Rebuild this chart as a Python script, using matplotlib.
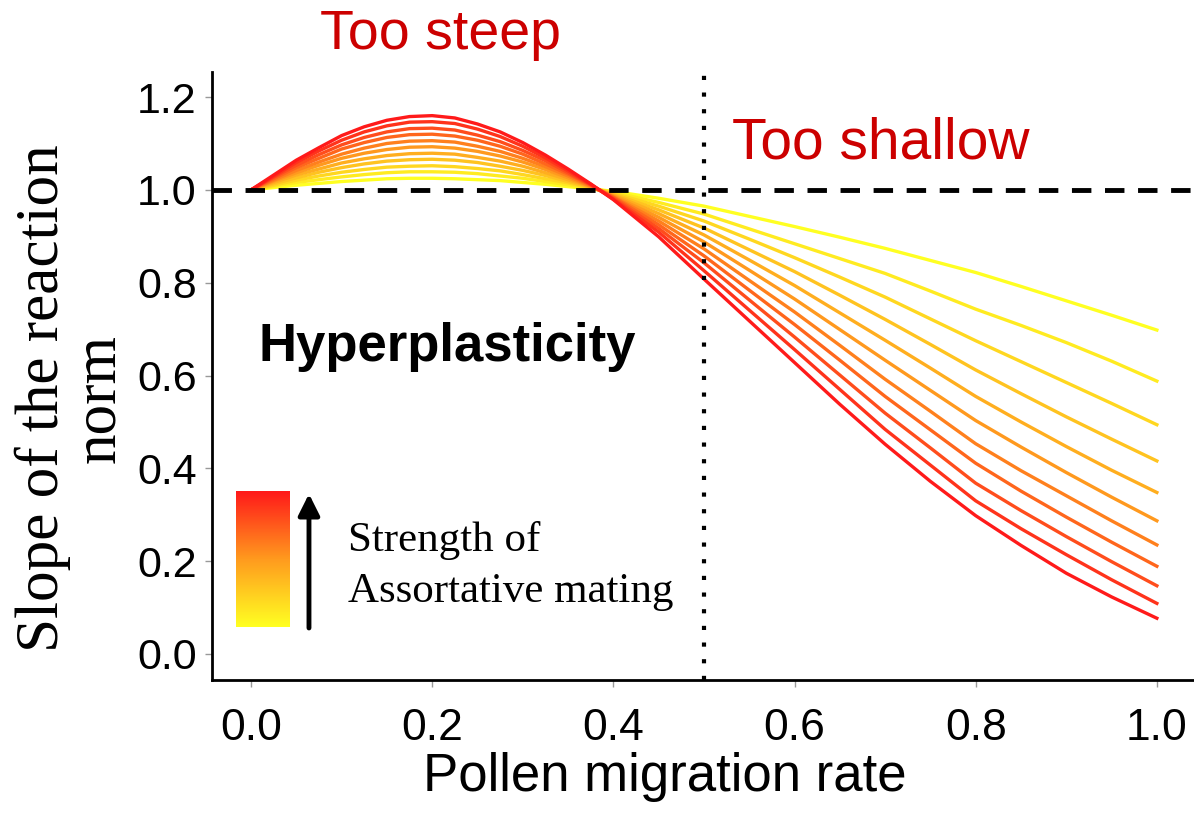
import numpy as np
import matplotlib.pyplot as plt
from matplotlib.colors import LinearSegmentedColormap
from matplotlib.patches import Rectangle

# pollen migration rate (x) and slope of the reaction norm for 11 strengths
# of assortative mating, weakest (yellow) first, strongest (red) last
migration = [0.0, 0.025, 0.05, 0.075, 0.1, 0.125, 0.15, 0.175, 0.2, 0.225,
             0.25, 0.275, 0.3, 0.325, 0.35, 0.375, 0.4, 0.45, 0.5, 0.55,
             0.6, 0.65, 0.7, 0.75, 0.8, 0.85, 0.9, 0.95, 1.0]
slopes = [
    [1.000, 1.005, 1.010, 1.014, 1.018, 1.021, 1.024, 1.025, 1.025, 1.024, 1.022, 1.020, 1.016, 1.012, 1.007, 1.002,
     0.997, 0.982, 0.965, 0.943, 0.921, 0.898, 0.874, 0.848, 0.822, 0.792, 0.761, 0.730, 0.698],
    [1.000, 1.008, 1.016, 1.022, 1.028, 1.033, 1.037, 1.039, 1.039, 1.038, 1.035, 1.030, 1.025, 1.018, 1.011, 1.003,
     0.995, 0.973, 0.948, 0.916, 0.884, 0.852, 0.820, 0.782, 0.743, 0.708, 0.671, 0.631, 0.588],
    [1.000, 1.010, 1.021, 1.030, 1.038, 1.044, 1.049, 1.051, 1.052, 1.050, 1.046, 1.041, 1.033, 1.024, 1.015, 1.004,
     0.993, 0.965, 0.933, 0.894, 0.854, 0.812, 0.769, 0.722, 0.675, 0.630, 0.585, 0.540, 0.494],
    [1.000, 1.013, 1.026, 1.038, 1.048, 1.056, 1.062, 1.065, 1.066, 1.064, 1.059, 1.051, 1.042, 1.031, 1.018, 1.005,
     0.991, 0.957, 0.918, 0.871, 0.824, 0.773, 0.721, 0.667, 0.612, 0.561, 0.511, 0.463, 0.416],
    [1.000, 1.016, 1.032, 1.045, 1.058, 1.067, 1.074, 1.078, 1.079, 1.077, 1.070, 1.062, 1.051, 1.037, 1.022, 1.006,
     0.989, 0.949, 0.903, 0.849, 0.794, 0.735, 0.676, 0.616, 0.555, 0.500, 0.447, 0.396, 0.348],
    [1.000, 1.019, 1.037, 1.053, 1.068, 1.079, 1.087, 1.092, 1.093, 1.090, 1.083, 1.073, 1.060, 1.044, 1.026, 1.007,
     0.987, 0.941, 0.888, 0.827, 0.765, 0.699, 0.633, 0.568, 0.503, 0.446, 0.391, 0.338, 0.287],
    [1.000, 1.021, 1.042, 1.060, 1.077, 1.090, 1.100, 1.105, 1.106, 1.103, 1.094, 1.083, 1.068, 1.050, 1.030, 1.008,
     0.985, 0.933, 0.873, 0.805, 0.737, 0.665, 0.592, 0.523, 0.453, 0.395, 0.341, 0.287, 0.235],
    [1.000, 1.024, 1.048, 1.068, 1.088, 1.102, 1.113, 1.119, 1.120, 1.116, 1.107, 1.094, 1.077, 1.056, 1.034, 1.010,
     0.984, 0.925, 0.858, 0.784, 0.710, 0.633, 0.555, 0.483, 0.411, 0.351, 0.295, 0.241, 0.189],
    [1.000, 1.027, 1.053, 1.076, 1.097, 1.113, 1.125, 1.132, 1.133, 1.129, 1.118, 1.104, 1.085, 1.063, 1.037, 1.011,
     0.982, 0.917, 0.843, 0.763, 0.683, 0.601, 0.519, 0.444, 0.368, 0.309, 0.253, 0.199, 0.147],
    [1.000, 1.029, 1.059, 1.084, 1.107, 1.125, 1.138, 1.146, 1.147, 1.143, 1.131, 1.115, 1.094, 1.069, 1.041, 1.012,
     0.980, 0.909, 0.826, 0.741, 0.656, 0.570, 0.484, 0.407, 0.330, 0.270, 0.214, 0.160, 0.109],
    [1.000, 1.032, 1.064, 1.091, 1.117, 1.136, 1.150, 1.158, 1.160, 1.155, 1.142, 1.125, 1.102, 1.075, 1.045, 1.013,
     0.979, 0.899, 0.808, 0.718, 0.628, 0.538, 0.452, 0.372, 0.298, 0.234, 0.174, 0.123, 0.077],
]
xticks = [0.0, 0.2, 0.4, 0.6, 0.8, 1.0]
yticks = [0.0, 0.2, 0.4, 0.6, 0.8, 1.0, 1.2]

heat = LinearSegmentedColormap.from_list('heat', ['#FFFF22', '#FF9A1E', '#FF1A1A'])

fig = plt.figure(figsize=(11.94, 8.23), dpi=100)
ax = fig.add_axes([0.1776, 0.1738, 0.8224, 0.7387])

for i, ys in enumerate(slopes):
    ax.plot(migration, ys, color=heat(i / (len(slopes) - 1)), lw=2.4,
            solid_joinstyle='round', zorder=2)

ax.axhline(1.0, color='black', lw=3.5, linestyle=(0, (4, 2.8)), zorder=3)
ax.axvline(0.5, color='black', lw=3, linestyle=(0, (1, 3)), zorder=3)

# colour bar legend + arrow
grad = np.linspace(0, 1, 100).reshape(-1, 1)
ax.imshow(grad, cmap=heat, origin='lower', aspect='auto',
          extent=(-0.0166, 0.042, 0.058, 0.349), zorder=2)
ax.annotate('', xy=(0.064, 0.345), xytext=(0.064, 0.056),
            arrowprops=dict(arrowstyle='-|>', lw=3.5, color='black',
                            mutation_scale=32, shrinkA=0, shrinkB=0))
ax.text(0.107, 0.244, 'Strength of', family='Liberation Serif', fontsize=31,
        va='center', ha='left')
ax.text(0.107, 0.134, 'Assortative mating', family='Liberation Serif',
        fontsize=31, va='center', ha='left')

ax.set_xlim(-0.043, 1.041)
ax.set_ylim(-0.056, 1.254)
ax.set_xticks(xticks)
ax.set_xticklabels([f'{v:.1f}' for v in xticks], family='Liberation Sans', fontsize=32)
ax.set_yticks(yticks)
ax.set_yticklabels([f'{v:.1f}' for v in yticks], family='Liberation Sans', fontsize=31)
ax.tick_params(axis='both', length=5, width=1, color='#999999')
ax.tick_params(axis='x', pad=15)
ax.tick_params(axis='y', pad=6)

for s in ['top', 'right']:
    ax.spines[s].set_visible(False)
for s in ['left', 'bottom']:
    ax.spines[s].set_linewidth(2)

# white patch behind the Hyperplasticity label (hides part of the axis)
fig.patches.append(Rectangle((215 / 1194, 1 - 385 / 823), 425 / 1194, 85 / 823,
                             transform=fig.transFigure, facecolor='white',
                             edgecolor='none', zorder=5))
fig.text(258 / 1194, 1 - 347 / 823, 'Hyperplasticity', family='Liberation Sans',
         fontweight='bold', fontsize=38, va='center', ha='left', zorder=6)

fig.text(0.369, 0.957, 'Too steep', family='Liberation Sans', fontsize=40,
         color='#CC0000', ha='center', va='center')
fig.text(0.738, 0.826, 'Too shallow', family='Liberation Sans', fontsize=41,
         color='#CC0000', ha='center', va='center')

fig.text(0.0595, 0.516, 'Slope of the reaction\nnorm', family='Liberation Serif',
         fontsize=44, rotation=90, ha='center', va='center',
         multialignment='center', linespacing=1.0)
fig.text(0.557, 0.056, 'Pollen migration rate', family='Liberation Sans',
         fontsize=38, ha='center', va='center')

fig.savefig('out.png', dpi=100)
